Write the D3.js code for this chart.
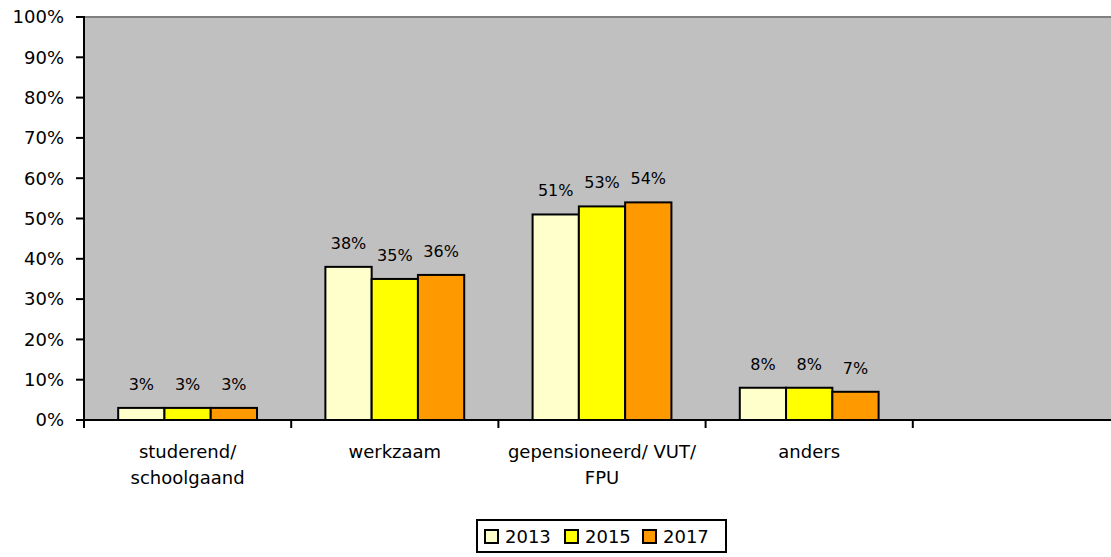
<!DOCTYPE html>
<html>
<head>
<meta charset="utf-8">
<script src="https://cdn.jsdelivr.net/npm/d3@7"></script>
<style>
  body { margin: 0; background: #fff; overflow: hidden; }
  svg { display: block; font-family: "DejaVu Sans", sans-serif; }
</style>
</head>
<body>
<script>
// data
var categories = [["studerend/", "schoolgaand"], ["werkzaam"], ["gepensioneerd/ VUT/", "FPU"], ["anders"], []];
var years = ["2013", "2015", "2017"];
var values2013 = [3, 38, 51, 8];
var values2015 = [3, 35, 53, 8];
var values2017 = [3, 36, 54, 7];
var yTicks = [0, 10, 20, 30, 40, 50, 60, 70, 80, 90, 100];
var colors = ["#FFFFCC", "#FFFF00", "#FF9900"];

var series = [values2013, values2015, values2017];

var width = 1111, height = 557;
var plotLeft = 84, plotTop = 17, plotBottom = 420, plotRight = 1120;

var svg = d3.select("body").append("svg")
    .attr("width", width)
    .attr("height", height);

// scales
var x = d3.scaleBand()
    .domain(d3.range(categories.length))
    .range([plotLeft, plotRight]);

var groupWidth = x.bandwidth() * 0.67;
var xInner = d3.scaleBand()
    .domain(years)
    .range([0, groupWidth])
    .padding(0);

var innerOffset = (x.bandwidth() - groupWidth) / 2;

var y = d3.scaleLinear()
    .domain([0, 100])
    .range([plotBottom, plotTop]);

// plot background
svg.append("rect")
    .attr("x", plotLeft)
    .attr("y", plotTop)
    .attr("width", plotRight - plotLeft)
    .attr("height", plotBottom - plotTop)
    .attr("fill", "#C0C0C0");

svg.append("line")
    .attr("x1", plotLeft).attr("x2", plotRight)
    .attr("y1", plotTop).attr("y2", plotTop)
    .attr("stroke", "#808080")
    .attr("stroke-width", 2);

// bars
years.forEach(function (yr, i) {
    var g = svg.append("g");
    g.selectAll("rect")
        .data(series[i])
        .enter()
        .append("rect")
        .attr("x", function (d, j) { return x(j) + innerOffset + xInner(yr); })
        .attr("y", function (d) { return y(d); })
        .attr("width", xInner.bandwidth())
        .attr("height", function (d) { return y(0) - y(d); })
        .attr("fill", colors[i])
        .attr("stroke", "#000")
        .attr("stroke-width", 2);

    g.selectAll("text")
        .data(series[i])
        .enter()
        .append("text")
        .attr("x", function (d, j) { return x(j) + innerOffset + xInner(yr) + xInner.bandwidth() / 2; })
        .attr("y", function (d) { return y(d) - 18; })
        .attr("text-anchor", "middle")
        .attr("font-size", 16)
        .attr("fill", "#000")
        .text(function (d) { return d + "%"; });
});

// y axis
svg.append("line")
    .attr("x1", plotLeft).attr("x2", plotLeft)
    .attr("y1", plotTop - 1).attr("y2", plotBottom + 1)
    .attr("stroke", "#000")
    .attr("stroke-width", 2);

svg.selectAll(".ytick")
    .data(yTicks)
    .enter()
    .append("line")
    .attr("x1", plotLeft - 8).attr("x2", plotLeft)
    .attr("y1", function (d) { return y(d); })
    .attr("y2", function (d) { return y(d); })
    .attr("stroke", "#000")
    .attr("stroke-width", 2);

svg.selectAll(".ylabel")
    .data(yTicks)
    .enter()
    .append("text")
    .attr("x", 64)
    .attr("y", function (d) { return y(d); })
    .attr("dy", "0.35em")
    .attr("text-anchor", "end")
    .attr("font-size", 18)
    .text(function (d) { return d + "%"; });

// x axis
svg.append("line")
    .attr("x1", plotLeft - 8).attr("x2", plotRight)
    .attr("y1", plotBottom).attr("y2", plotBottom)
    .attr("stroke", "#000")
    .attr("stroke-width", 2);

svg.selectAll(".xtick")
    .data(d3.range(categories.length))
    .enter()
    .append("line")
    .attr("x1", function (d) { return x(d); })
    .attr("x2", function (d) { return x(d); })
    .attr("y1", plotBottom).attr("y2", plotBottom + 8)
    .attr("stroke", "#000")
    .attr("stroke-width", 2);

var catLabels = svg.selectAll(".xlabel")
    .data(categories)
    .enter()
    .append("text")
    .attr("text-anchor", "middle")
    .attr("font-size", 18)
    .attr("fill", "#000");

catLabels.selectAll("tspan")
    .data(function (d, i) { return d.map(function (t) { return { t: t, i: i }; }); })
    .enter()
    .append("tspan")
    .attr("x", function (d) { return x(d.i) + x.bandwidth() / 2; })
    .attr("y", function (d, k) { return 458 + k * 26; })
    .text(function (d) { return d.t; });

// legend
var legend = svg.append("g");
legend.append("rect")
    .attr("x", 477).attr("y", 520)
    .attr("width", 249).attr("height", 32)
    .attr("fill", "#fff")
    .attr("stroke", "#000")
    .attr("stroke-width", 2);

var legendX = [485, 565, 643];
years.forEach(function (yr, i) {
    legend.append("rect")
        .attr("x", legendX[i]).attr("y", 530)
        .attr("width", 13).attr("height", 13)
        .attr("fill", colors[i])
        .attr("stroke", "#000")
        .attr("stroke-width", 2);
    legend.append("text")
        .attr("x", legendX[i] + 20)
        .attr("y", 543)
        .attr("font-size", 18)
        .text(yr);
});
</script>
</body>
</html>
